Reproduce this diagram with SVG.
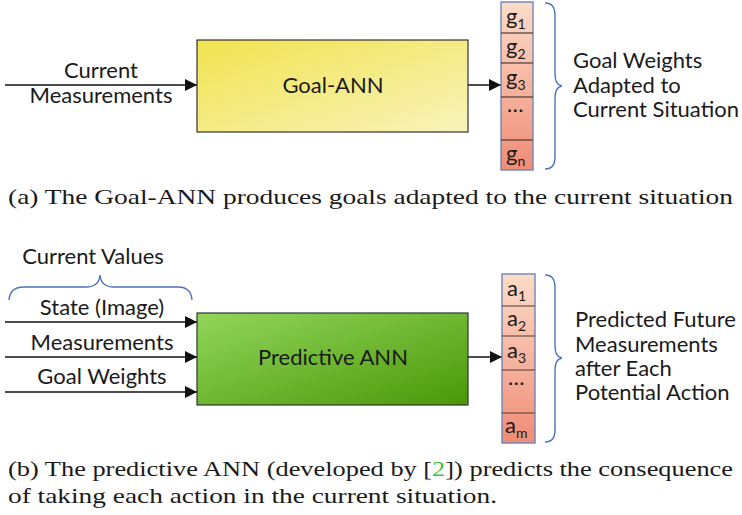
<svg xmlns="http://www.w3.org/2000/svg" width="742" height="515" viewBox="0 0 742 515">
  <defs>
    <linearGradient id="yellowFill" x1="0" y1="0" x2="1" y2="1">
      <stop offset="0" stop-color="#f1e24e"/>
      <stop offset="1" stop-color="#f8f4bc"/>
    </linearGradient>
    <linearGradient id="greenFill" x1="0" y1="0" x2="1" y2="1">
      <stop offset="0" stop-color="#92d65c"/>
      <stop offset="1" stop-color="#4a9808"/>
    </linearGradient>
    <linearGradient id="cellFill" x1="0" y1="0" x2="0" y2="1">
      <stop offset="0" stop-color="#fcdcc8"/>
      <stop offset="1" stop-color="#f08c76"/>
    </linearGradient>
    <marker id="arrow" viewBox="0 0 10 10" refX="10" refY="5" markerWidth="16" markerHeight="12" markerUnits="userSpaceOnUse" orient="auto">
      <path d="M0,0 L10,5 L0,10 z" fill="#111"/>
    </marker>
    <style>
      .lbl { font-family: Lato, "Open Sans", sans-serif; font-size: 22px; fill: #1a1a1a; }
      .sub { font-size: 14px; }
      .cap { font-family: 'Liberation Serif', 'Times New Roman', serif; font-size: 22px; fill: #1a1a1a; }
      .box { stroke: #333; stroke-width: 1.2; }
      .vec { fill: url(#cellFill); stroke: #6d86b8; stroke-width: 1.4; }
      .sep { stroke: #4a3a36; stroke-width: 1.2; }
      .brace { fill: none; stroke: #4a74bd; stroke-width: 1.4; }
      .wire { stroke: #111; stroke-width: 1.3; fill: none; marker-end: url(#arrow); }
    </style>
  </defs>

  <!-- connectors -->
  <g id="connectors">
    <line class="wire" x1="5" y1="85" x2="197" y2="85"/>
    <line class="wire" x1="468" y1="85" x2="501" y2="85"/>
    <line class="wire" x1="5" y1="322" x2="197" y2="322"/>
    <line class="wire" x1="5" y1="357" x2="197" y2="357"/>
    <line class="wire" x1="5" y1="392" x2="197" y2="392"/>
    <line class="wire" x1="468" y1="357" x2="502" y2="357"/>
  </g>

  <!-- (a) Goal-ANN -->
  <g id="goal-input-label">
    <text class="lbl" x="101" y="78" text-anchor="middle">Current</text>
    <text class="lbl" x="101" y="103" text-anchor="middle">Measurements</text>
  </g>
  <g id="goal-ann">
    <rect class="box" x="197" y="40" width="271" height="92" fill="url(#yellowFill)"/>
    <text class="lbl" x="333" y="93" text-anchor="middle">Goal-ANN</text>
  </g>
  <g id="goal-vector">
    <rect class="vec" x="501" y="2" width="32" height="168"/>
    <line class="sep" x1="501" y1="33" x2="533" y2="33"/>
    <line class="sep" x1="501" y1="63" x2="533" y2="63"/>
    <line class="sep" x1="501" y1="97" x2="533" y2="97"/>
    <line class="sep" x1="501" y1="140" x2="533" y2="140"/>
    <text class="lbl" x="506" y="24">g<tspan class="sub" dy="5">1</tspan></text>
    <text class="lbl" x="506" y="54">g<tspan class="sub" dy="5">2</tspan></text>
    <text class="lbl" x="506" y="85">g<tspan class="sub" dy="5">3</tspan></text>
    <text class="lbl" x="507" y="112">…</text>
    <text class="lbl" x="506" y="161">g<tspan class="sub" dy="5">n</tspan></text>
  </g>
  <g id="goal-output-label">
    <path class="brace" d="M545,3 Q555,3 555,15 L555,74 Q555,85 562,86 Q555,87 555,98 L555,157 Q555,169 545,169"/>
    <text class="lbl" x="573" y="68">Goal Weights</text>
    <text class="lbl" x="573" y="93">Adapted to</text>
    <text class="lbl" x="573" y="117">Current Situation</text>
  </g>
  <text id="caption-a" class="cap" x="8" y="204" textLength="725" lengthAdjust="spacingAndGlyphs">(a) The Goal-ANN produces goals adapted to the current situation</text>

  <!-- (b) Predictive ANN -->
  <g id="current-values">
    <text class="lbl" x="93" y="264" text-anchor="middle">Current Values</text>
    <path class="brace" d="M9,300 Q10,287 24,287 L86,287 Q99,287 100,275 Q101,287 114,287 L178,287 Q191,287 192,300"/>
  </g>
  <g id="predictive-input-labels">
    <text class="lbl" x="102" y="315" text-anchor="middle">State (Image)</text>
    <text class="lbl" x="102" y="350" text-anchor="middle">Measurements</text>
    <text class="lbl" x="102" y="384" text-anchor="middle">Goal Weights</text>
  </g>
  <g id="predictive-ann">
    <rect class="box" x="197" y="313" width="271" height="92" fill="url(#greenFill)"/>
    <text class="lbl" x="333" y="365" text-anchor="middle">Predictive ANN</text>
  </g>
  <g id="action-vector">
    <rect class="vec" x="502" y="274" width="33" height="169"/>
    <line class="sep" x1="502" y1="306" x2="535" y2="306"/>
    <line class="sep" x1="502" y1="336" x2="535" y2="336"/>
    <line class="sep" x1="502" y1="370" x2="535" y2="370"/>
    <line class="sep" x1="502" y1="413" x2="535" y2="413"/>
    <text class="lbl" x="507" y="296">a<tspan class="sub" dy="5">1</tspan></text>
    <text class="lbl" x="507" y="326">a<tspan class="sub" dy="5">2</tspan></text>
    <text class="lbl" x="507" y="358">a<tspan class="sub" dy="5">3</tspan></text>
    <text class="lbl" x="508" y="385">…</text>
    <text class="lbl" x="505" y="433">a<tspan class="sub" dy="5">m</tspan></text>
  </g>
  <g id="action-output-label">
    <path class="brace" d="M545,275 Q555,275 555,287 L555,346 Q555,357 562,358 Q555,359 555,370 L555,430 Q555,442 545,442"/>
    <text class="lbl" x="575" y="327">Predicted Future</text>
    <text class="lbl" x="575" y="352">Measurements</text>
    <text class="lbl" x="575" y="376">after Each</text>
    <text class="lbl" x="575" y="400">Potential Action</text>
  </g>
  <text id="caption-b1" class="cap" x="8" y="476" textLength="725" lengthAdjust="spacingAndGlyphs">(b) The predictive ANN (developed by [<tspan fill="#3cc43c">2</tspan>]) predicts the consequence</text>
  <text id="caption-b2" class="cap" x="8" y="503" textLength="489" lengthAdjust="spacingAndGlyphs">of taking each action in the current situation.</text>
</svg>
